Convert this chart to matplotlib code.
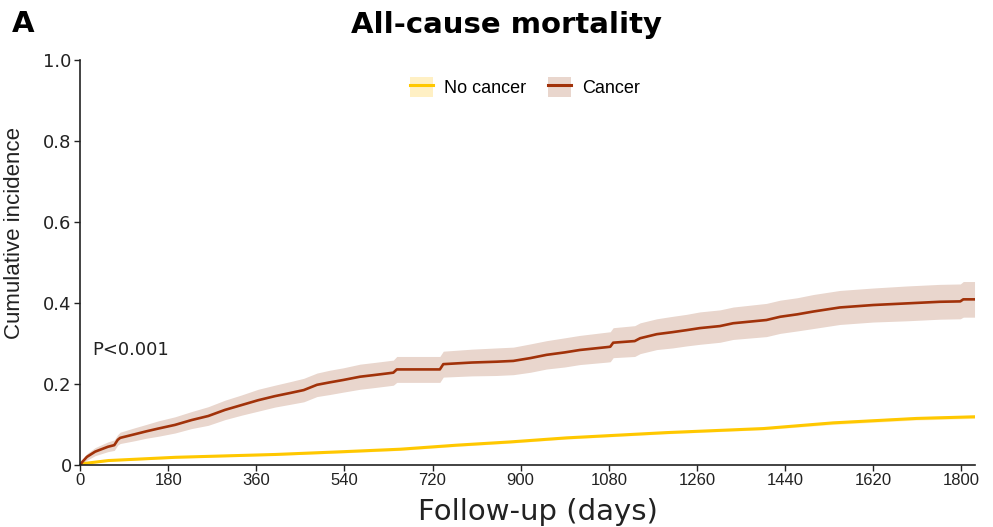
"""
Cumulative incidence of all-cause mortality, cancer vs no cancer.
"""

import matplotlib

matplotlib.use("Agg")

import matplotlib.pyplot as plt
from matplotlib.lines import Line2D
from matplotlib.patches import Patch

# cancer group: curve with 95% band
cancer_days = [0, 5, 14, 31, 57, 70, 77, 82, 112, 135, 160, 194, 228, 262, 296, 330,
               364, 398, 430, 457, 484, 510, 538, 572, 600, 627, 640, 647, 735, 742,
               800, 850, 885, 920, 953, 990, 1021, 1076, 1083, 1089, 1133, 1144, 1178,
               1210, 1239, 1266, 1307, 1334, 1402, 1430, 1465, 1498, 1552, 1620, 1688,
               1756, 1798, 1804, 1827]
cancer_ci = [0, 0.008, 0.020, 0.033, 0.045, 0.049, 0.062, 0.067, 0.076, 0.083, 0.090,
             0.099, 0.111, 0.121, 0.136, 0.148, 0.160, 0.170, 0.178, 0.185, 0.198,
             0.204, 0.210, 0.218, 0.222, 0.226, 0.228, 0.236, 0.236, 0.249, 0.253,
             0.255, 0.257, 0.264, 0.272, 0.278, 0.284, 0.291, 0.292, 0.302, 0.306,
             0.313, 0.323, 0.328, 0.333, 0.338, 0.343, 0.350, 0.358, 0.366, 0.372,
             0.379, 0.389, 0.395, 0.399, 0.403, 0.404, 0.409, 0.409]
cancer_lower = [0, 0.004, 0.012, 0.023, 0.033, 0.036, 0.049, 0.053, 0.060, 0.066,
                0.071, 0.079, 0.090, 0.098, 0.112, 0.123, 0.133, 0.143, 0.150, 0.156,
                0.169, 0.174, 0.180, 0.187, 0.191, 0.195, 0.197, 0.204, 0.204, 0.217,
                0.220, 0.221, 0.223, 0.229, 0.237, 0.242, 0.248, 0.254, 0.255, 0.265,
                0.268, 0.275, 0.285, 0.289, 0.294, 0.298, 0.303, 0.310, 0.317, 0.325,
                0.331, 0.337, 0.347, 0.353, 0.356, 0.360, 0.361, 0.365, 0.365]
cancer_upper = [0, 0.012, 0.028, 0.043, 0.057, 0.062, 0.075, 0.081, 0.092, 0.100,
                0.109, 0.119, 0.132, 0.144, 0.160, 0.173, 0.187, 0.197, 0.206, 0.214,
                0.227, 0.234, 0.240, 0.249, 0.253, 0.257, 0.259, 0.268, 0.268, 0.281,
                0.286, 0.289, 0.291, 0.299, 0.307, 0.314, 0.320, 0.328, 0.329, 0.339,
                0.344, 0.351, 0.361, 0.367, 0.372, 0.378, 0.383, 0.390, 0.399, 0.407,
                0.413, 0.421, 0.431, 0.437, 0.442, 0.446, 0.447, 0.453, 0.453]

# no-cancer group
nocancer_days = [0, 10, 58, 195, 399, 540, 654, 770, 879, 994, 1198, 1396, 1538,
                 1709, 1827]
nocancer_ci = [0, 0.004, 0.011, 0.019, 0.026, 0.033, 0.039, 0.049, 0.057, 0.067,
               0.080, 0.090, 0.104, 0.115, 0.119]
nocancer_lower = [0, 0.003, 0.009, 0.017, 0.024, 0.030, 0.036, 0.046, 0.054, 0.064,
                  0.077, 0.087, 0.100, 0.111, 0.115]
nocancer_upper = [0, 0.005, 0.013, 0.021, 0.028, 0.036, 0.042, 0.052, 0.060, 0.070,
                  0.083, 0.093, 0.108, 0.119, 0.123]

x_ticks = [0, 180, 360, 540, 720, 900, 1080, 1260, 1440, 1620, 1800]
y_ticks = [0, 0.2, 0.4, 0.6, 0.8, 1.0]
y_tick_labels = ["0", "0.2", "0.4", "0.6", "0.8", "1.0"]

CANCER = "#A1320A"
CANCER_BAND = "#E9D6CD"
NOCANCER = "#FFC800"
NOCANCER_BAND = "#FFF0C4"


def main() -> None:
    W, H = 993, 527
    fig = plt.figure(figsize=(W / 100, H / 100), dpi=100)
    ax = fig.add_axes([80 / W, 1 - 465 / H, 895 / W, 405 / H])

    ax.fill_between(nocancer_days, nocancer_lower, nocancer_upper,
                    color=NOCANCER_BAND, linewidth=0)
    ax.plot(nocancer_days, nocancer_ci, color=NOCANCER, linewidth=2.2)

    ax.fill_between(cancer_days, cancer_lower, cancer_upper,
                    color=CANCER_BAND, linewidth=0)
    ax.plot(cancer_days, cancer_ci, color=CANCER, linewidth=1.9)

    ax.set_xlim(0, 1828)
    ax.set_ylim(0, 1.0)
    ax.set_xticks(x_ticks)
    ax.set_yticks(y_ticks)
    ax.set_yticklabels(y_tick_labels)
    for lab in ax.get_xticklabels():
        lab.set_family("Liberation Sans")
        lab.set_fontsize(12)
    for lab in ax.get_yticklabels():
        lab.set_family("DejaVu Sans")
        lab.set_fontsize(13)
    ax.tick_params(length=4, width=1.0, color="#222222", labelcolor="#222222", pad=2)

    for side in ("top", "right"):
        ax.spines[side].set_visible(False)
    for side in ("left", "bottom"):
        ax.spines[side].set_linewidth(1.2)
        ax.spines[side].set_color("#222222")

    fig.text(538 / W, 1 - 512 / H, "Follow-up (days)", ha="center", va="center",
             fontsize=21, family="DejaVu Sans", color="#222222")
    fig.text(15 / W, 1 - 233 / H, "Cumulative incidence", rotation=90,
             ha="center", va="center", fontsize=16, family="Liberation Sans",
             color="#222222")

    ax.text(25, 0.285, "P<0.001", fontsize=13, family="DejaVu Sans", va="center",
            color="#222222")

    fig.text(506 / W, 1 - 25 / H, "All-cause mortality", ha="center", va="center",
             fontsize=21, fontweight="bold", family="DejaVu Sans")
    fig.text(23 / W, 1 - 24 / H, "A", ha="center", va="center",
             fontsize=21, fontweight="bold", family="DejaVu Sans")

    handles = [
        (Patch(facecolor=NOCANCER_BAND, edgecolor="none"),
         Line2D([], [], color=NOCANCER, linewidth=2.2)),
        (Patch(facecolor=CANCER_BAND, edgecolor="none"),
         Line2D([], [], color=CANCER, linewidth=2.2)),
    ]
    fig.legend(handles, ["No cancer", "Cancer"], loc="center",
               bbox_to_anchor=(525 / W, 1 - 87 / H), ncol=2, frameon=False,
               prop={"family": "Liberation Sans", "size": 13},
               handlelength=1.3, handleheight=1.3, columnspacing=1.2,
               handletextpad=0.6)

    fig.savefig("out.png", dpi=100)
    plt.close(fig)


if __name__ == "__main__":
    main()
